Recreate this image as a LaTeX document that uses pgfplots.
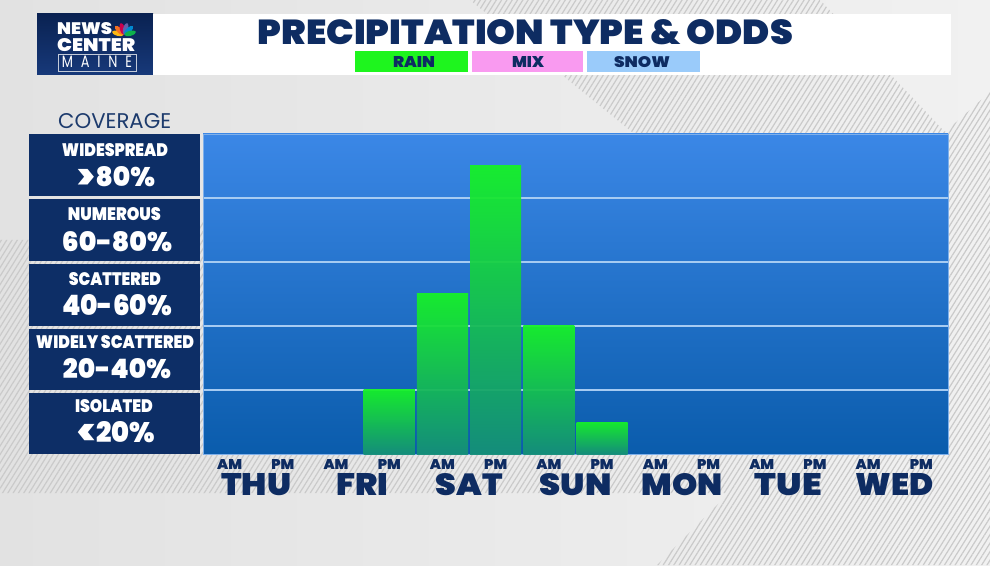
\documentclass[border=0pt]{standalone}
\usepackage{pgfplots}
\pgfplotsset{compat=1.18}
\usepackage{fontspec}
\setmainfont{Poppins}
\IfFontExistsTF{Poppins Black}{\newfontfamily\heavyfam{Poppins Black}\newcommand{\heavy}{\heavyfam}}{%
 \IfFontExistsTF{Poppins ExtraBold}{\newfontfamily\heavyfam{Poppins ExtraBold}\newcommand{\heavy}{\heavyfam}}{%
 \newcommand{\heavy}{\bfseries}}}
\usepackage{graphicx}
\usetikzlibrary{patterns.meta}

\definecolor{navy}{HTML}{0D2E66}
\definecolor{navyT}{HTML}{0E2C62}
\definecolor{covC}{HTML}{1D3B6D}
\definecolor{bgL}{HTML}{E2E2E2}
\definecolor{bgR}{HTML}{F1F1F1}
\definecolor{hatchC}{HTML}{CACACA}
\definecolor{logoT}{HTML}{0A2252}
\definecolor{logoB}{HTML}{17397A}
\definecolor{rainC}{HTML}{1EF51E}
\definecolor{mixC}{HTML}{F99AF0}
\definecolor{snowC}{HTML}{9ACBFA}
\definecolor{plotTop}{HTML}{3B87E6}
\definecolor{plotBot}{HTML}{0A5CAC}
\definecolor{plotEdge}{HTML}{7FB0EA}
\definecolor{gridC}{HTML}{A6CBF2}
\definecolor{barTop}{HTML}{16F226}
\definecolor{barBot}{HTML}{159078}
\definecolor{pY}{HTML}{FCB711}
\definecolor{pO}{HTML}{F37021}
\definecolor{pR}{HTML}{CC004C}
\definecolor{pP}{HTML}{6460AA}
\definecolor{pB}{HTML}{0089D0}
\definecolor{pG}{HTML}{0DB14B}

\newcommand{\fit}[3]{\resizebox{#1pt}{#2pt}{#3}}
\newcommand{\AMl}{\resizebox{25pt}{10pt}{\heavy AM}}
\newcommand{\PMl}{\resizebox{23pt}{10pt}{\heavy PM}}
\newcommand{\DAY}[2]{\resizebox{#1pt}{22pt}{\heavy #2}}
\newcommand{\bigsym}[1]{\raisebox{-0.1em}{\scalebox{1.35}{#1}}}

\pgfplotsset{onebar/.style={draw=none, bar shift=0pt, bar width=0.96,
   top color=barTop, bottom color=barBot, fill opacity=0.94}}

\begin{document}
\begin{tikzpicture}
\begin{scope}[x=1pt,y=1pt]
\path[use as bounding box] (0,0) rectangle (990,565);
\shade[left color=bgL, right color=bgR] (0,0) rectangle (990,565);
% hatched background band
\path[pattern={Lines[angle=58,distance=4.5pt,line width=1.2pt]}, pattern color=hatchC]
 (470,565) -- (820,565) -- (945,{565-132}) -- (990,{565-92}) -- (990,0) -- (657,0)
 -- (729,{565-493}) -- (0,{565-493}) -- (0,{565-240}) -- (100,{565-240})
 -- (640,{565-140}) -- (632,{565-132}) -- cycle;

% logo
\shade[top color=logoT, bottom color=logoB] (37,{565-14}) rectangle (153,{565-75});
\node[anchor=base west, inner sep=0pt, text=white] at (57,{565-35}) {\fit{55}{12}{\heavy NEWS}};
\node[anchor=base west, inner sep=0pt, text=white] at (57,{565-51.5}) {\fit{78}{13}{\heavy CENTER}};
\draw[white!75!navy, line width=0.6pt] (58,{565-54.5}) rectangle (136,{565-71});
\node[anchor=base, inner sep=0pt, text=white] at (97,{565-68}) {\fit{70}{11.5}{M\hspace{0.6em}A\hspace{0.6em}I\hspace{0.6em}N\hspace{0.6em}E}};
\foreach \a/\c in {165/pY,135/pO,105/pR,75/pP,45/pB,15/pG}
  \fill[\c, shift={(124,530)}, rotate=\a] (6.4,0) ellipse (6pt and 2.5pt);

% title bar
\fill[white] (153,{565-14}) rectangle (951,{565-75});
\node[anchor=base, inner sep=0pt, text=navyT] at (525.5,{565-45}) {\fit{535}{25}{\heavy PRECIPITATION TYPE \& ODDS}};
\fill[rainC] (355,{565-51}) rectangle (468,{565-72});
\fill[mixC] (472,{565-51}) rectangle (583,{565-72});
\fill[snowC] (587,{565-51}) rectangle (700,{565-72});
\node[anchor=base, inner sep=0pt, text=navyT] at (414,{565-68}) {\fit{42}{11}{\heavy RAIN}};
\node[anchor=base, inner sep=0pt, text=navyT] at (528,{565-68}) {\fit{32}{11}{\heavy MIX}};
\node[anchor=base, inner sep=0pt, text=navyT] at (642,{565-68}) {\fit{56}{11}{\heavy SNOW}};

% coverage label column
\node[anchor=base west, inner sep=0pt, text=covC] at (58,{565-129}) {\fit{113}{15}{COVERAGE}};
\fill[navy] (29,{565-134}) rectangle (200,{565-196});
\fill[navy] (29,{565-199}) rectangle (200,{565-261});
\fill[navy] (29,{565-264}) rectangle (200,{565-326});
\fill[navy] (29,{565-329}) rectangle (200,{565-390});
\fill[navy] (29,{565-393}) rectangle (200,{565-454});
\begin{scope}[every node/.style={anchor=base, inner sep=0pt, text=white}]
\node at (115,{565-157}) {\fit{106}{13}{\heavy WIDESPREAD}};
\node at (116.5,{565-187}) {\fit{77}{20}{\heavy \bigsym{>}80\%}};
\node at (114.5,{565-221}) {\fit{93}{13}{\heavy NUMEROUS}};
\node at (117,{565-252}) {\fit{110}{20}{\heavy 60-80\%}};
\node at (115,{565-286}) {\fit{92}{13}{\heavy SCATTERED}};
\node at (117,{565-316}) {\fit{110}{21}{\heavy 40-60\%}};
\node at (115,{565-349}) {\fit{158}{13}{\heavy WIDELY SCATTERED}};
\node at (117,{565-379}) {\fit{108}{20}{\heavy 20-40\%}};
\node at (114,{565-413}) {\fit{78}{13}{\heavy ISOLATED}};
\node at (116.5,{565-443}) {\fit{77}{21}{\heavy \bigsym{<}20\%}};
\end{scope}
\end{scope}

\begin{axis}[
  at={(203pt,111pt)}, anchor=south west,
  width=745pt, height=320pt, scale only axis,
  xmin=0, xmax=14, ymin=0, ymax=100,
  axis background/.style={top color=plotTop, bottom color=plotBot},
  axis line style={draw=plotEdge, line width=0.6pt},
  ytick={20,40,60,80}, yticklabels={},
  ymajorgrids, grid style={draw=gridC, line width=1.4pt},
  major tick length=0pt,
  xtick={0.5,1.5,2.5,3.5,4.5,5.5,6.5,7.5,8.5,9.5,10.5,11.5,12.5,13.5},
  xticklabels={\AMl,\PMl,\AMl,\PMl,\AMl,\PMl,\AMl,\PMl,\AMl,\PMl,\AMl,\PMl,\AMl,\PMl},
  xticklabel style={anchor=base, inner sep=0pt, yshift=-15pt, text=navyT},
  extra x ticks={1,3,5,7,9,11,13},
  extra x tick labels={\DAY{70}{THU},\DAY{52}{FRI},\DAY{67}{SAT},\DAY{72}{SUN},\DAY{81}{MON},\DAY{67}{TUE},\DAY{78}{WED}},
  extra x tick style={grid=none, major tick length=0pt,
     tick label style={anchor=base, inner sep=0pt, yshift=-26pt, text=navyT}},
  ybar,
]
% Rain coverage (%): Fri PM, Sat AM, Sat PM, Sun AM, Sun PM
\addplot[onebar] coordinates {(3.5,20)};
\addplot[onebar] coordinates {(4.5,50)};
\addplot[onebar] coordinates {(5.5,90)};
\addplot[onebar] coordinates {(6.5,40)};
\addplot[onebar] coordinates {(7.5,10)};
\end{axis}
\end{tikzpicture}
\end{document}
